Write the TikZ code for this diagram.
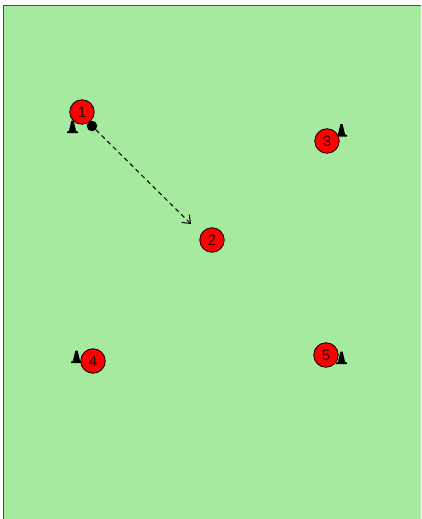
\documentclass[tikz,border=0pt]{standalone}
\usepackage{fontspec}
\setmainfont{Liberation Sans}
\usetikzlibrary{arrows.meta}
\definecolor{pitch}{HTML}{A5EA9F}
\begin{document}
\begin{tikzpicture}[x=1pt,y=-1pt,
 player/.style={circle,draw=black,fill=red,line width=.8pt,minimum size=24.5pt,inner sep=0pt,font=\fontsize{15}{15}\selectfont,text=black!85!red},
 ball/.style={circle,fill=black,minimum size=10.5pt,inner sep=0pt},
 run/.style={dash pattern=on 4.5pt off 3.5pt,line width=1pt,-{Straight Barb[length=7pt,width=11pt,line width=1pt]}},
 cone/.pic={\fill[black] (-5.5,0)--(-5.5,-1.3)--(-3.6,-2)--(-1.1,-12.5)--(1.1,-12.5)--(3.6,-2)--(5.5,-1.3)--(5.5,0)--cycle;}]
\useasboundingbox (0,0) rectangle (421,519);
\fill[pitch] (3.5,5.5) rectangle (421,519);
\draw[black!70,line width=.9pt] (3.5,519)--(3.5,5.5)--(421,5.5);
\pic at (72.5,133) {cone};
\pic at (341.5,136.5) {cone};
\pic at (76.5,363) {cone};
\pic at (341.5,364) {cone};
\node[player] (p1) at (82,112) {1};
\node[player] (p2) at (212,240) {2};
\node[player] (p3) at (327,141) {3};
\node[player] (p4) at (93,361) {4};
\node[player] (p5) at (326,355) {5};
\node[ball] (b1) at (92,126) {};
\coordinate (end) at (191,224);
\draw[run] (b1)--(end);
\end{tikzpicture}
\end{document}
